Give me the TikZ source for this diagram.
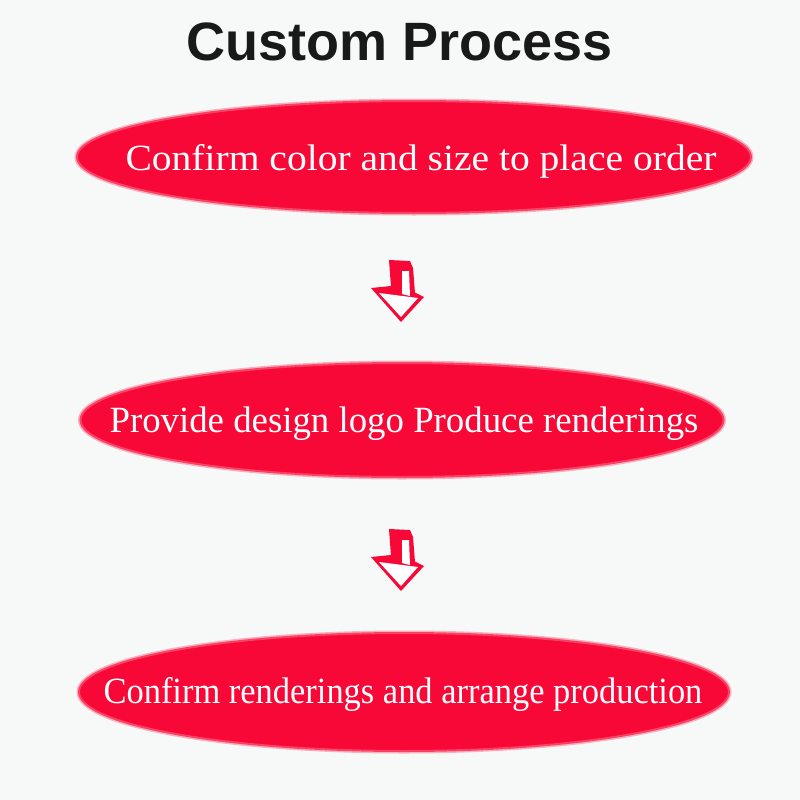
\documentclass[tikz,border=0pt]{standalone}
\usepackage{fontspec}
\setmainfont{Liberation Serif}
\newfontfamily\titlefont{Liberation Sans}
\usetikzlibrary{shapes.geometric}
\definecolor{bgc}{RGB}{247,248,248}
\definecolor{redc}{RGB}{247,8,54}
\tikzset{
  stepell/.style={ellipse, fill=redc, draw=redc!75!bgc, line width=2pt, inner sep=0pt,
    preaction={draw=redc!30!bgc, line width=5pt}},
  steptext/.style={text=white, font=\fontsize{37}{40}\selectfont, anchor=base, inner sep=0pt},
  downarrow/.pic={
    % red stem (side face)
    \fill[redc] (-14,-33) -- (7,-32) -- (10,-25) -- (12,0) -- (-12,-6) -- cycle;
    % arrow head back (red)
    \fill[redc] (-32,-5) -- (-12,-7) -- (11,-1) -- (21,4) -- (-2,29) -- cycle;
    % white front strip of stem
    \fill[white] (-1,-22) -- (6,-22) -- (7,3) -- (-1,1) -- cycle;
    % arrow head front (white)
    \fill[white] (-24,0) -- (15,5) -- (-2,24) -- cycle;
  }
}
\begin{document}
\begin{tikzpicture}[x=1pt,y=-1pt]
\fill[bgc] (0,0) rectangle (800,800);
\useasboundingbox (0,0) rectangle (800,800);
\node[font=\titlefont\bfseries\fontsize{54}{58}\selectfont, text=black!90, anchor=base, inner sep=0pt] (title) at (400,61) {Custom Process};

\node[stepell, minimum width=674pt, minimum height=112pt] (e1) at (414,157) {};
\node[stepell, minimum width=643pt, minimum height=114pt] (e2) at (402,420) {};
\node[stepell, minimum width=650pt, minimum height=118pt] (e3) at (404,692) {};

\node[steptext] (t1) at (421,170) {\scalebox{1.069}[1]{Confirm color and size to place order}};
\node[steptext] (t2) at (404,432) {\scalebox{0.995}[1]{Provide design logo Produce renderings}};
\node[steptext] (t3) at (403,703) {\scalebox{0.931}[1]{Confirm renderings and arrange production}};

\coordinate (a1) at (403,293);
\coordinate (a2) at (403,562);
\pic at (a1) {downarrow};
\pic at (a2) {downarrow};
\end{tikzpicture}
\end{document}
